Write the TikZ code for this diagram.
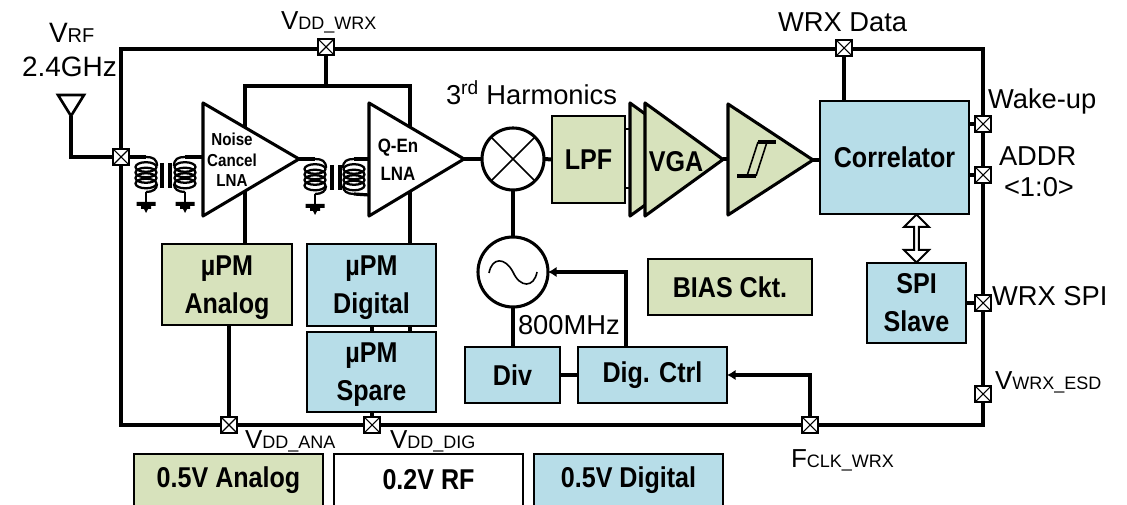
\documentclass[tikz,border=0pt]{standalone}
\usepackage{fontspec}
\setmainfont{Liberation Sans}
\usetikzlibrary{arrows.meta,shapes.arrows,calc}
\definecolor{agreen}{HTML}{D7E2BC}
\definecolor{dblue}{HTML}{B7DDE8}
\newcommand\fs[1]{\fontsize{#1}{#1}\selectfont}
\newcommand\bt[1]{\scalebox{.875}[1]{\bfseries #1}}
\newcommand\vsub[2]{{\fs{19.5}#1}{\fs{13.5}#2}}
\newcommand\upm{\rule{0pt}{19pt}\bt{µPM}}
\tikzset{
  x=0.75pt,y=-0.75pt,
  wire/.style={line width=3pt,black},
  frame/.style={line width=3.4pt,black},
  blockbox/.style 2 args={draw=black,line width=1.8pt,minimum width=#1*0.75pt,minimum height=#2*0.75pt,inner sep=0pt,outer sep=0pt,align=center,font=\fs{21.5}},
  tri/.style={draw=black,line width=2.3pt,line join=round},
  pad/.style={draw=black,fill=white,line width=1.6pt,minimum size=15.5*0.75pt,inner sep=0pt,outer sep=0pt,
    path picture={\draw[line width=.8pt] (path picture bounding box.north west)--(path picture bounding box.south east)
      (path picture bounding box.north east)--(path picture bounding box.south west);}},
  lab/.style={anchor=base west,inner sep=0pt,outer sep=0pt,font=\fs{20.5}},
  ring/.style={draw=black,fill=white,circle,line width=2.3pt,inner sep=0pt,outer sep=0pt},
  arrowed/.style={wire,-{Latex[length=6.5pt,width=8pt]}},
  coil/.pic={
    \coordinate (-top) at (0,0);
    \coordinate (-bot) at (0,35);
    \draw[line width=1.7pt] (0,0) .. controls (7,0) and (11,2) .. (11,9);
    \foreach \yy in {10,15.5,21,26.5}{\draw[line width=1.7pt] (0,\yy) ellipse (10.5 and 4.8);}
    \draw[line width=1.7pt] (11,27) .. controls (11,32) and (7,35) .. (0,35);
  },
  gnd/.pic={
    \coordinate (-in) at (0,0);
    \fill (-9.5,0) -- (9.5,0) -- (9.5,4) -- (5,4) -- (5,7) -- (2,7) -- (0,11) -- (-2,7) -- (-5,7) -- (-5,4) -- (-9.5,4) -- cycle;
  },
  bars/.pic={
    \draw[line width=2.3pt] (0,0) -- (0,25) (8,0) -- (8,25);
  }
}
\begin{document}
\begin{tikzpicture}
\useasboundingbox (0,0) rectangle (1127,505);
% frame
\draw[frame,line join=miter] (121,49) rectangle (983,425);
% pads
\node[pad] (pwrx) at (326,47) {};
\node[pad] (pdata) at (844,48) {};
\node[pad] (prf) at (121,157) {};
\node[pad] (pwake) at (983,124) {};
\node[pad] (paddr) at (983,175) {};
\node[pad] (pspi) at (983,303) {};
\node[pad] (pesd) at (983,394) {};
\node[pad] (pana) at (229,425) {};
\node[pad] (pdig) at (372,425) {};
\node[pad] (pclk) at (810,425) {};
% antenna
\coordinate (ant) at (71,116);
\draw[line width=2pt,line join=miter] (58,95) -- (84,95) -- (ant) -- cycle;
\draw[wire] (ant) |- (prf.west);
% amplifiers
\draw[tri,fill=white] (203,103) -- (299,159) -- (203,216) -- cycle;
\draw[tri,fill=white] (369,103) -- (464,159) -- (369,216) -- cycle;
\coordinate (a1t) at (245,127);
\coordinate (a1b) at (245,192);
\coordinate (a1o) at (299,159);
\coordinate (a1i) at (203,157);
\coordinate (a2t) at (410,127);
\coordinate (a2b) at (410,192);
\coordinate (a2i) at (369,159);
\coordinate (a2ib) at (369,195);
\coordinate (a2o) at (464,159);
\coordinate (rail) at (326,86);
\draw[wire] (pwrx.south) -- (rail);
\draw[wire,line join=miter] (a1t) -- (a1t|-rail) -- (a2t|-rail) -- (a2t);
\node[align=center,inner sep=0pt] (tnc) at (232,160) {\fs{13}\bt{Noise}\\[3.5pt]\fs{13}\bt{Cancel}\\[3.5pt]\fs{13}\bt{LNA}};
\node[align=center,inner sep=0pt] (tqe) at (398,160) {\fs{14.5}\bt{Q-En}\\[7pt]\fs{14.5}\bt{LNA}};
% coils
\pic (c1) at (146,157) {coil};
\pic[xscale=-1] (c2) at (185,157) {coil};
\pic (c3) at (315,159) {coil};
\pic[xscale=-1] (c4) at (354,159) {coil};
\pic at (162,163) {bars};
\pic at (332,165) {bars};
\pic (g1) at (146,202) {gnd};
\pic (g2) at (185,202) {gnd};
\pic (g3) at (315,204) {gnd};
\draw[wire,line width=2.4pt] (prf.east) -- (c1-top);
\draw[wire,line width=2.4pt] (a1i) -- (c2-top);
\draw[wire,line width=2.4pt] (a1o) -- (c3-top);
\draw[wire,line width=2.4pt] (a2i) -- (c4-top);
\draw[wire,line width=2.4pt] (a2ib) -- (c4-bot);
\draw[line width=1.6pt] (c1-bot) -- (g1-in);
\draw[line width=1.6pt] (c2-bot) -- (g2-in);
\draw[line width=1.6pt] (c3-bot) -- (g3-in);
% mixer, LO
\node[ring,minimum size=62*0.75pt] (mix) at (513,159) {};
\draw[line width=1.2pt] (mix.45) -- (mix.225) (mix.135) -- (mix.315);
\node[ring,minimum size=70*0.75pt] (osc) at (513,272) {};
\draw[line width=1.2pt] (489,273) .. controls (492,257) and (505,257) .. (513,272) .. controls (520,288) and (534,288) .. (537,272);
\draw[wire] (a2o) -- (mix.west);
\draw[wire] (mix.south) -- (osc.north);
% blocks
\node[blockbox={130}{81},fill=agreen] (uana) at (227,284.5) {\upm\\[7pt]\bt{Analog}};
\node[blockbox={129}{82},fill=dblue] (udig) at (371.5,285) {\upm\\[7pt]\bt{Digital}};
\node[blockbox={129}{80},fill=dblue] (uspr) at (371.5,372) {\upm\\[7pt]\bt{Spare}};
\node[blockbox={73}{87},fill=agreen] (lpf) at (588.5,159.5) {\bt{LPF}};
\node[blockbox={149}{113},fill=dblue] (corr) at (894.5,157.5) {\bt{Correlator}};
\node[blockbox={99}{80},fill=dblue] (spi) at (916.5,303) {\bt{SPI}\\[7pt]\bt{Slave}};
\node[blockbox={164}{56},fill=agreen] (bias) at (730,287) {\bt{BIAS Ckt.}};
\node[blockbox={95}{56},fill=dblue] (div) at (512.5,375) {\bt{Div}};
\node[blockbox={149}{56},fill=dblue] (dctl) at (652.5,375) {\bt{Dig. Ctrl}};
\node[blockbox={189}{52},fill=agreen] (lega) at (228.5,480) {\bt{0.5V Analog}};
\node[blockbox={189}{52},fill=white] (legr) at (428.5,480) {\bt{0.2V RF}};
\node[blockbox={189}{52},fill=dblue] (legd) at (628.5,480) {\bt{0.5V Digital}};
% VGA stack
\draw[tri,fill=agreen] (630,103) -- (708,159.5) -- (630,216) -- cycle;
\draw[tri,fill=agreen] (645,103) -- (723,159.5) -- (645,216) -- cycle;
\node[inner sep=0pt] (tvga) at (676,162) {\fs{21.5}\bt{VGA}};
\draw[tri,fill=agreen] (728,104) -- (813,160) -- (728,215) -- cycle;
\draw[line width=2.4pt] (737,176) -- (756,176) (758,142) -- (776,142);
\draw[line width=1.2pt] (747,176) -- (758,142) (756,176) -- (767,142);
\coordinate (vin1) at (630,129);
\coordinate (vin2) at (630,188);
\coordinate (vout) at (723,159.5);
\coordinate (sin) at (728,159.5);
\coordinate (sout) at (813,160);
% connectors
\draw[wire] (mix.east) -- (lpf.west);
\draw[wire,line width=2.2pt] (lpf.east|-vin1) -- (vin1);
\draw[wire,line width=2.2pt] (lpf.east|-vin2) -- (vin2);
\draw[wire] (vout) -- (sin);
\draw[wire] (sout) -- (corr.west|-sout);
\draw[wire] (pdata.south) -- (pdata|-corr.north);
\draw[wire] (corr.east|-pwake) -- (pwake.west);
\draw[wire] (corr.east|-paddr) -- (paddr.west);
\draw[wire] (spi.east|-pspi) -- (pspi.west);
\draw[wire] (a1b) -- (a1b|-uana.north);
\draw[wire] (a2b) -- (a2b|-udig.north);
\draw[wire] (pana.north) -- (pana|-uana.south);
\draw[wire] (pdig.north) -- (pdig|-uspr.south);
\draw[wire,line width=2.6pt] (pdig|-udig.south) -- (pdig|-uspr.north);
\draw[wire,line width=2.6pt] (a2b|-udig.south) -- (a2b|-uspr.north);
\draw[wire] (div.north-|osc) -- (osc.south);
\draw[wire] (div.east) -- (dctl.west);
\coordinate (tap) at (626,272);
\draw[arrowed,line join=miter] (tap|-dctl.north) -- (tap) -- (osc.east);
\draw[arrowed,line join=miter] (pclk.north) |- (dctl.east);
\node[double arrow,draw=black,fill=white,line width=1.5pt,rotate=90,inner sep=0pt,outer sep=0pt,
  minimum height=48*0.75pt,minimum width=25*0.75pt,double arrow head extend=4.5*0.75pt,
  double arrow tip angle=90] (bus) at ($(corr.south)!0.5!(corr.south|-spi.north)+(22*0.75pt,0)$) {};
% labels
\node[lab] (tvrf) at (49,43) {{\fs{21}V}{\fs{15}RF}};
\node[lab] (t24) at (22,77) {\fs{21}2.4GHz};
\node[lab] (tvw) at (281,30) {\vsub{V}{DD\_WRX}};
\node[lab] (tdat) at (778,32) {WRX Data};
\node[lab] (t3) at (446,105) {3\textsuperscript{rd} Harmonics};
\node[lab] (twk) at (988,109) {Wake-up};
\node[lab] (tad) at (999,166) {ADDR};
\node[lab] (t10) at (1004,197) {<1:0>};
\node[lab] (tsp) at (992,306) {WRX SPI};
\node[lab] (tes) at (995,390) {\vsub{V}{WRX\_ESD}};
\node[lab] (t800) at (518,335) {800MHz};
\node[lab] (tva) at (245,449) {\vsub{V}{DD\_ANA}};
\node[lab] (tvd) at (390,449) {\vsub{V}{DD\_DIG}};
\node[lab] (tfc) at (791,467) {\vsub{F}{CLK\_WRX}};
\end{tikzpicture}
\end{document}
